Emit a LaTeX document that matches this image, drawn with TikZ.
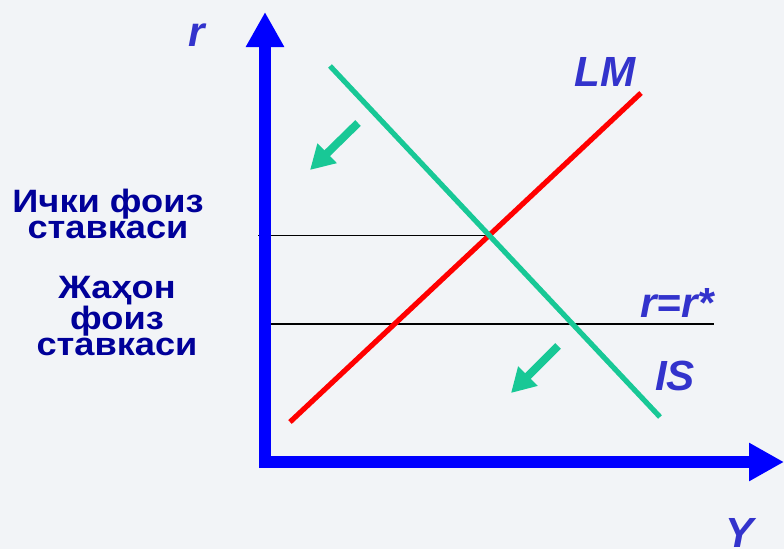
\documentclass[tikz,border=0pt]{standalone}
\usepackage{fontspec}
\setmainfont{Liberation Sans}
\newfontfamily\ratefont[FakeStretch=1.12]{Liberation Sans}
\usetikzlibrary{arrows.meta}
\definecolor{axisblue}{RGB}{0,0,255}
\definecolor{labelblue}{RGB}{51,51,204}
\definecolor{ratenavy}{RGB}{0,0,153}
\definecolor{isgreen}{RGB}{24,200,150}
\definecolor{lmred}{RGB}{255,0,0}
\definecolor{bgpaper}{RGB}{242,244,247}
\begin{document}
\begin{tikzpicture}[every node/.style={inner sep=1.5pt},
    axis/.style={line width=0.3cm, axisblue, line cap=rect, -{Triangle[length=0.875cm,width=0.9cm]}},
    curve/.style={line width=0.13cm},
    driftarrow/.style={line width=0.2cm, isgreen, -{Triangle[length=0.6cm,width=0.65cm]}},
    level/.style={line width=0.8pt, black},
    tag/.style={font=\fontsize{30}{30}\selectfont\bfseries\itshape, text=labelblue},
    rate/.style={font=\ratefont\fontsize{23}{18.5}\selectfont\bfseries, text=ratenavy, align=center}]
      \fill[bgpaper] (0,0) rectangle (19.6,13.725);
      \useasboundingbox (0,0) rectangle (19.6,13.725);

      \coordinate (O) at (6.625,2.175);
      \coordinate (rtop) at (6.625,13.425);
      \coordinate (ytip) at (19.6,2.175);

      \coordinate (LMlo) at (7.25,3.175);
      \coordinate (LMhi) at (16.025,11.4);
      \coordinate (IShi) at (8.25,12.075);
      \coordinate (ISlo) at (16.5,3.3);
      \coordinate (E) at (intersection of LMlo--LMhi and IShi--ISlo);
      \coordinate (rleft) at (6.45,0);
      \coordinate (rsa) at (6.75,5.625);
      \coordinate (rsb) at (17.85,5.625);

      \coordinate (ua) at (8.95,10.65);
      \coordinate (ub) at (7.75,9.475);
      \coordinate (da) at (13.95,5.075);
      \coordinate (db) at (12.775,3.9);

      \node[tag] (rlab) at (4.925,12.85) {r};
      \node[tag] (ylab) at (18.5,0.4) {Y};
      \node[tag] (lmlab) at (15.125,11.925) {LM};
      \node[tag] (islab) at (16.875,4.325) {IS};
      \node[tag] (rstar) at (16.925,6.15) {r=r*};

      \node[rate] (home) at (2.7,8.375) {Ички фоиз\\ставкаси};
      \node[rate] (world) at (2.925,5.825) {Жаҳон\\фоиз\\ставкаси};

      \draw[level] (rleft |- E) -- (E);
      \draw[level] (rsa) -- (rsb);
      \draw[curve, lmred] (LMlo) -- (LMhi);
      \draw[curve, isgreen] (IShi) -- (ISlo);
      \draw[driftarrow] (ua) -- (ub);
      \draw[driftarrow] (da) -- (db);
      \draw[axis] (O) -- (rtop);
      \draw[axis] (O) -- (ytip);
    \end{tikzpicture}
\end{document}
